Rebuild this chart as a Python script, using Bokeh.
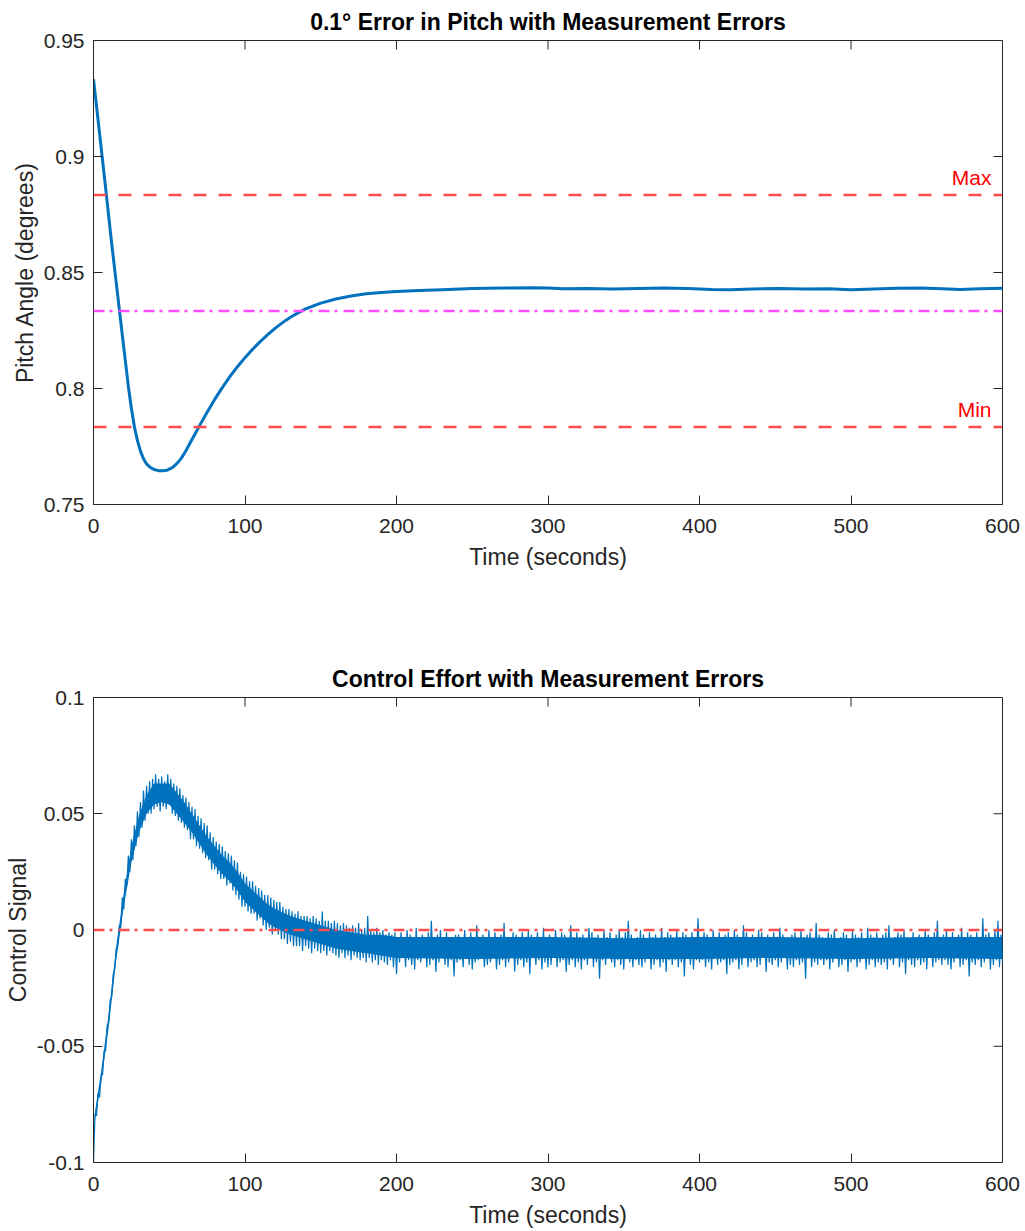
import numpy as np
from bokeh.plotting import figure
from bokeh.layouts import column
from bokeh.models import Range1d, FixedTicker, Span, Label
from bokeh.embed import file_html
from bokeh.resources import INLINE

# ---------------- data ----------------
title_top = "0.1\u00b0 Error in Pitch with Measurement Errors"
title_bottom = "Control Effort with Measurement Errors"

time_ticks = [0, 100, 200, 300, 400, 500, 600]
time_tick_labels = ["0", "100", "200", "300", "400", "500", "600"]
pitch_ticks = [0.75, 0.8, 0.85, 0.9, 0.95]
pitch_tick_labels = ["0.75", "0.8", "0.85", "0.9", "0.95"]
control_ticks = [-0.1, -0.05, 0, 0.05, 0.1]
control_tick_labels = ["-0.1", "-0.05", "0", "0.05", "0.1"]

pitch_target = 0.8334
pitch_max = 0.8834
pitch_min = 0.7834

pitch_time = [0, 4, 8, 12, 16, 20, 23, 25, 27, 29, 31, 33, 35, 37.5, 40, 43, 46, 49, 52, 55,
              58, 61, 64, 67, 70, 75, 80, 85, 90, 95, 100, 105, 110, 115, 120, 125, 130,
              135, 140, 150, 160, 170, 180, 190, 200, 215, 230, 250, 270, 290, 300, 310, 325,
              343, 360, 376, 392, 408, 420, 435, 452, 470, 485, 500, 515, 530, 546, 560, 572,
              585, 600]
pitch_deg = [0.9333, 0.910, 0.8865, 0.8625, 0.840, 0.8175, 0.801, 0.7915, 0.7835, 0.7775,
             0.7730, 0.7697, 0.7675, 0.7660, 0.7651, 0.7646, 0.7645, 0.7649, 0.7659, 0.7676,
             0.7700, 0.7732, 0.7768, 0.7804, 0.7840, 0.7898, 0.7953, 0.8004, 0.8051, 0.8094,
             0.8133, 0.8169, 0.8202, 0.8232, 0.8260, 0.8285, 0.8307, 0.8326, 0.8343,
             0.8368, 0.8386, 0.8399, 0.8408, 0.8414, 0.8418, 0.8422, 0.8426, 0.8431, 0.8433,
             0.8434, 0.8433, 0.8430, 0.8431, 0.8429, 0.8431, 0.8433, 0.8431, 0.8427, 0.8426,
             0.8429, 0.8431, 0.8429, 0.8430, 0.8426, 0.8429, 0.8432, 0.8433, 0.8430, 0.8427,
             0.8430, 0.8432]

control_dt = 1.0  # seconds between samples
# control signal, in thousandths, one sample per second from t=0 to t=600
# (the noisy trace swings between the upper and lower edge of its band)
control_signal_milli = [
    -100, -79, -80, -70, -72, -63, -62, -52, -52, -41, -40, -30, -29, -19, -17, -8, -7,
    2, 1, 14, 9,
    22, 19, 32, 25, 39, 30, 45, 36, 51, 40,
    55, 44, 60, 47, 62, 50, 64, 50, 65, 52,
    67, 53, 65, 51, 66, 53, 64, 52, 67, 54,
    65, 50, 63, 49, 62, 47, 61, 46, 58, 44,
    57, 43, 55, 39, 53, 39, 52, 36, 49, 35,
    48, 33, 46, 31, 45, 30, 42, 26, 40, 26,
    38, 24, 37, 22, 36, 22, 34, 19, 33, 20,
    32, 17, 30, 15, 29, 13, 25, 10, 24, 10,
    23, 8, 21, 7, 21, 7, 19, 4, 18, 5,
    17, 2, 15, 0, 15, 1, 14, -2, 13, 0,
    12, -2, 12, -4, 10, -4, 9, -6, 9, -5,
    8, -7, 7, -7, 8, -7, 6, -9, 6, -7,
    6, -8, 5, -10, 6, -8, 5, -9, 4, -10,
    8, -9, 4, -11, 4, -9, 3, -10, 4, -11,
    3, -12, 2, -10, 3, -12, 2, -11, 1, -13,
    2, -11, 1, -12, 3, -13, 0, -12, 1, -14,
    6, -12, 0, -14, -1, -13, 1, -15, -1, -13,
    0, -14, -2, -15, -1, -13, -2, -16, -1, -19,
    -3, -14, -1, -12, -4, -16, 0, -13, -2, -15, -5, -17, 1, -13, -3, -14, -2, -11, -4, -16,
    -1, -15, 4, -13, -3, -18, -2, -14, 0, -12, -4, -15, -1, -16, -3, -13, -5, -20, -2, -14,
    -2, -13, -4, -16, 0, -12, -3, -15, -1, -17, -5, -14, 2, -13, -3, -11, -2, -16, -4, -15,
    0, -14, -3, -12, -1, -17, -4, -15, -2, -13, 3, -16, -3, -14, -5, -12, -1, -18, -2, -15,
    -4, -13, -1, -16, -3, -14, 0, -19, -2, -12, -5, -15, -1, -13, -3, -17, 1, -14, -4, -16,
    -2, -15, -3, -12, 0, -16, -4, -14, -1, -13, -2, -18, -5, -15, 2, -13, -3, -16, -1, -14,
    -3, -17, -2, -13, -4, -15, 1, -12, -1, -16, -3, -14, -2, -21, -4, -13, 0, -15, -3, -12,
    -1, -14, -5, -16, -2, -13, 0, -15, -3, -17, -1, -12, 4, -14, -2, -16, -4, -13, -3, -15,
    0, -16, -2, -14, -4, -12, -1, -17, -3, -15, -2, -13, -5, -16, 1, -14, -3, -18, -1, -13,
    -2, -15, -4, -13, 0, -16, -3, -14, -1, -20, -2, -12, -4, -15, -1, -17, -3, -13, 5, -14,
    -3, -13, -1, -16, -2, -14, -4, -17, 0, -12, -3, -15, -1, -14, -5, -13, -2, -19, -1, -15,
    -4, -14, 0, -13, -2, -17, -3, -15, 2, -12, -1, -16, -4, -14, -2, -13, -3, -16, 0, -15,
    -1, -12, -3, -18, -2, -14, -5, -15, -1, -13, -3, -16, 1, -14, -2, -12, -4, -17, -3, -15,
    -2, -16, -1, -13, -4, -15, 0, -14, -3, -21, -2, -12, -1, -16, -4, -14, 3, -15, -2, -13,
    -3, -15, -5, -13, -1, -17, -2, -14, 0, -12, -4, -16, -3, -15, -1, -13, -2, -18, -4, -14,
    0, -13, -2, -16, -3, -14, -1, -12, -4, -17, 1, -15, -2, -13, -3, -16, -1, -14, -5, -15,
    -2, -14, -1, -17, 2, -13, -4, -15, -3, -12, -1, -16, -2, -14, 0, -19, -3, -13, -4, -15,
    -1, -16, -3, -13, -2, -15, -5, -14, 0, -17, -2, -12, -4, -16, -1, -14, 4, -13, -3, -15,
    -2, -13, 0, -15, -4, -17, -1, -14, -3, -12, -2, -16, 1, -15, -3, -13, -1, -20, -2, -14,
    -4, -15, -1, -13, -3, -16, 5, -14, -2, -12, -1, -17, -3, -15, 0, -13, 4, -16, -2, -14,
]
# dense core of the noisy control trace (where the samples pile up)
band_time = [1, 5, 10, 15, 20, 25, 30, 35, 40, 45, 50, 55, 60, 65, 70, 75, 80, 85, 90, 95,
             100, 105, 110, 115, 120, 130, 140, 150, 160, 170, 180, 190, 200, 250, 300, 350,
             400, 450, 500, 550, 600]
band_low = [-0.082, -0.066, -0.042, -0.013, 0.010, 0.029, 0.042, 0.050, 0.054, 0.055,
            0.054, 0.050, 0.046, 0.042, 0.037, 0.032, 0.028, 0.024, 0.021, 0.017,
            0.012, 0.009, 0.006, 0.003, 0.001, -0.002, -0.004, -0.006, -0.008, -0.009,
            -0.010, -0.011, -0.012, -0.0125, -0.012, -0.0125, -0.0125, -0.012, -0.0125,
            -0.012, -0.0125]
band_high = [-0.078, -0.061, -0.036, -0.007, 0.016, 0.036, 0.049, 0.058, 0.063, 0.063,
             0.063, 0.059, 0.055, 0.050, 0.045, 0.040, 0.036, 0.032, 0.029, 0.025,
             0.020, 0.017, 0.014, 0.011, 0.009, 0.006, 0.004, 0.002, 0.000, -0.001,
             -0.002, -0.002, -0.003, -0.003, -0.003, -0.0035, -0.003, -0.003, -0.0035,
             -0.003, -0.003]
control_zero = 0.0

# ---------------- styling ----------------
FONT = "Liberation Sans"
AXC = "#262626"
BLUE = "#0072bd"
RED = "#ff4d4d"
MAGENTA = "#ff4dff"
TICK_LEN = 9

control_signal = np.array(control_signal_milli, dtype=float) / 1000.0
control_time = np.arange(len(control_signal)) * control_dt


def style_axis(ax, ticks, labels):
    ax.ticker = FixedTicker(ticks=ticks)
    ax.axis_line_color = AXC
    ax.axis_line_width = 1
    ax.major_tick_line_color = AXC
    ax.major_tick_in = TICK_LEN
    ax.major_tick_out = 0
    ax.minor_tick_line_color = None
    ax.axis_label_text_font = FONT
    ax.axis_label_text_font_size = "23px"
    ax.axis_label_text_font_style = "normal"
    ax.axis_label_text_color = AXC
    ax.major_label_overrides = {t: l for t, l in zip(ticks, labels)}
    ax.major_label_text_font = FONT
    ax.major_label_text_font_size = "21px"
    ax.major_label_text_color = AXC


def make_fig(height, yr, border_top, border_bottom, title, ylabel, yticks, ylabels):
    p = figure(width=1025, height=height, x_range=Range1d(0, 600), y_range=Range1d(*yr),
               output_backend="svg", toolbar_location=None,
               min_border_left=93, min_border_right=23,
               min_border_top=border_top, min_border_bottom=border_bottom,
               title=title)
    p.grid.visible = False
    p.outline_line_color = AXC
    p.outline_line_width = 1
    p.background_fill_color = "white"
    p.border_fill_color = "white"
    style_axis(p.below[0], time_ticks, time_tick_labels)
    style_axis(p.left[0], yticks, ylabels)
    p.below[0].axis_label = "Time (seconds)"
    p.below[0].major_label_standoff = 14
    p.below[0].axis_label_standoff = 8
    p.left[0].axis_label = ylabel
    p.left[0].major_label_standoff = 9
    p.left[0].axis_label_standoff = 3
    p.title.text_font = FONT
    p.title.text_font_size = "23px"
    p.title.text_font_style = "bold"
    p.title.text_color = "black"
    p.title.align = "center"
    p.title.standoff = 11
    # inward tick marks on the top and right edges of the box (MATLAB style)
    p.ray(x=time_ticks, y=[yr[1]] * len(time_ticks), length=TICK_LEN, length_units="screen",
          angle=-np.pi / 2, line_color=AXC, line_width=1)
    p.ray(x=[600] * len(yticks), y=yticks, length=TICK_LEN, length_units="screen",
          angle=np.pi, line_color=AXC, line_width=1)
    return p


# ---------------- top: pitch ----------------
p1 = make_fig(600, (0.75, 0.95), 40, 96, title_top,
              "Pitch Angle (degrees)", pitch_ticks, pitch_tick_labels)
p1.line(pitch_time, pitch_deg, line_color=BLUE, line_width=3)
p1.add_layout(Span(location=pitch_max, dimension="width", line_color=RED,
                   line_width=2.5, line_dash="13 12"))
p1.add_layout(Span(location=pitch_min, dimension="width", line_color=RED,
                   line_width=2.5, line_dash="13 12"))
p1.add_layout(Span(location=pitch_target, dimension="width", line_color=MAGENTA,
                   line_width=2.5, line_dash="11 5 3 6"))
for txt, yv in (("Max", pitch_max), ("Min", pitch_min)):
    p1.add_layout(Label(x=600, y=yv, x_offset=-11, y_offset=6, text=txt,
                        text_align="right", text_baseline="bottom",
                        text_font=FONT, text_font_size="21px", text_color="#ff0000"))

# ---------------- bottom: control ----------------
p2 = make_fig(631, (-0.1, 0.1), 97, 69, title_bottom,
              "Control Signal", control_ticks, control_tick_labels)
p2.varea(x=band_time, y1=band_low, y2=band_high, fill_color=BLUE, fill_alpha=1.0)
p2.line(control_time, control_signal, line_color=BLUE, line_width=1.2)
p2.add_layout(Span(location=control_zero, dimension="width", line_color=RED,
                   line_width=2.5, line_dash="11 5 3 6"))

layout = column(p1, p2, spacing=0)
open("out.html", "w").write(file_html(layout, INLINE))
